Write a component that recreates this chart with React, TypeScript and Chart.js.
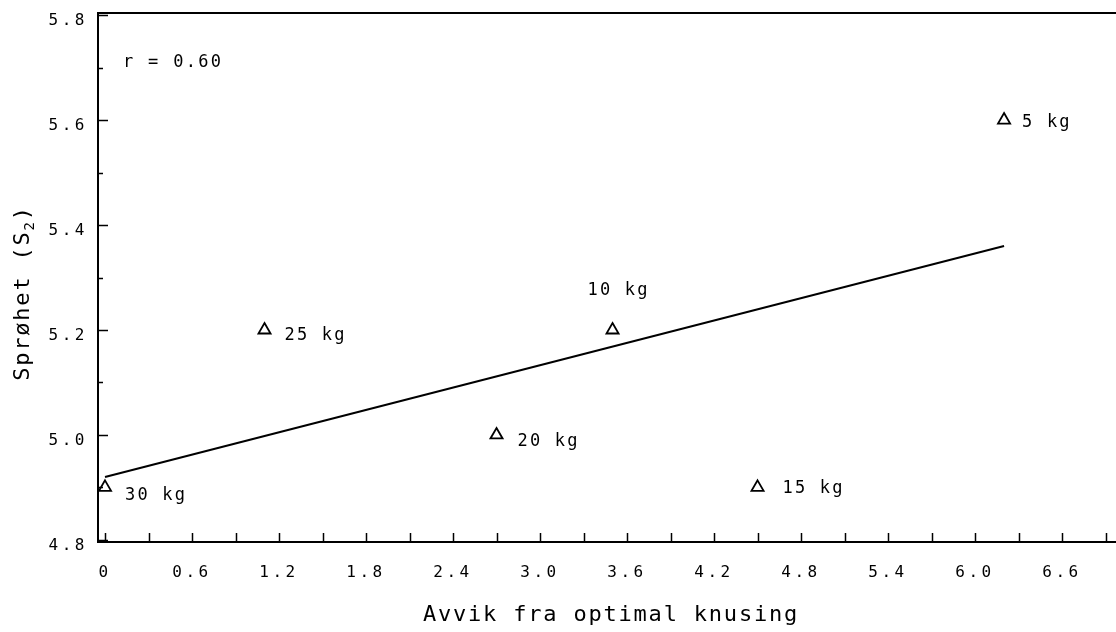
import { useEffect, useRef } from 'react';
import { Chart, registerables } from 'chart.js';

Chart.register(...registerables);

// Measured samples: deviation from optimal crushing vs. brittleness (S2)
const weightLabels = ['30 kg', '25 kg', '20 kg', '10 kg', '15 kg', '5 kg'];
const deviation = [0, 1.1, 2.7, 3.5, 4.5, 6.2];
const brittleness = [4.9, 5.2, 5.0, 5.2, 4.9, 5.6];

// Least-squares fit line end points
const fitDeviation = [0, 6.2];
const fitBrittleness = [4.92, 5.36];
const correlationText = 'r = 0.60';

// Axis ticks
const xTickValues = [0, 0.6, 1.2, 1.8, 2.4, 3.0, 3.6, 4.2, 4.8, 5.4, 6.0, 6.6];
const xTickLabels = ['0', '0.6', '1.2', '1.8', '2.4', '3.0', '3.6', '4.2', '4.8', '5.4', '6.0', '6.6'];
const xMinorTicks = [0.3, 0.9, 1.5, 2.1, 2.7, 3.3, 3.9, 4.5, 5.1, 5.7, 6.3, 6.9];
const yTickValues = [4.8, 5.0, 5.2, 5.4, 5.6, 5.8];
const yTickLabels = ['4.8', '5.0', '5.2', '5.4', '5.6', '5.8'];
const yMinorTicks = [4.9, 5.1, 5.3, 5.5, 5.7];

const xTitle = 'Avvik fra optimal knusing';
const yTitleParts = ['Sprøhet (S', '2', ')'];

const FONT = '"DejaVu Sans Mono", "Liberation Mono", monospace';

// Where each weight label sits relative to its marker (dx, baseline dy)
const labelOffsets: Record<string, [number, number]> = {
  '30 kg': [20, 13],
  '25 kg': [20, 10],
  '20 kg': [21, 11],
  '10 kg': [-25, -35],
  '15 kg': [25, 6],
  '5 kg': [18, 7],
};

const decorPlugin = {
  id: 'decor',
  beforeDraw(chart: any) {
    chart.ctx.letterSpacing = '3.5px';
  },
  afterDraw(chart: any) {
    const { ctx, chartArea: a } = chart;
    const x = chart.scales.x;
    const y = chart.scales.y;
    ctx.save();
    ctx.letterSpacing = '0px';
    ctx.strokeStyle = '#000';
    ctx.fillStyle = '#000';

    // top frame line
    ctx.lineWidth = 2;
    ctx.beginPath();
    ctx.moveTo(a.left - 1, a.top);
    ctx.lineTo(a.right, a.top);
    ctx.stroke();

    // inward tick marks
    ctx.lineWidth = 1.5;
    ctx.beginPath();
    [...xTickValues, ...xMinorTicks].forEach((v) => {
      const px = Math.round(x.getPixelForValue(v)) + 0.5;
      ctx.moveTo(px, a.bottom);
      ctx.lineTo(px, a.bottom - 9);
    });
    yTickValues.forEach((v) => {
      const py = Math.round(y.getPixelForValue(v)) + 0.5;
      ctx.moveTo(a.left, py);
      ctx.lineTo(a.left + 10, py);
    });
    yMinorTicks.forEach((v) => {
      const py = Math.round(y.getPixelForValue(v)) + 0.5;
      ctx.moveTo(a.left, py);
      ctx.lineTo(a.left + 5, py);
    });
    ctx.stroke();

    // weight labels beside markers
    ctx.font = `17px ${FONT}`;
    ctx.letterSpacing = '2.2px';
    ctx.textAlign = 'left';
    ctx.textBaseline = 'alphabetic';
    weightLabels.forEach((label, i) => {
      const [dx, dy] = labelOffsets[label] || [20, 8];
      ctx.fillText(label, x.getPixelForValue(deviation[i]) + dx, y.getPixelForValue(brittleness[i]) + dy);
    });

    // correlation coefficient
    ctx.letterSpacing = '2.3px';
    ctx.fillText(correlationText, a.left + 25, 67);

    // x axis title
    ctx.font = `22px ${FONT}`;
    ctx.letterSpacing = '1.8px';
    ctx.textAlign = 'center';
    ctx.fillText(xTitle, 611, 621);

    // y axis title with subscript
    ctx.save();
    ctx.translate(29, 293);
    ctx.rotate(-Math.PI / 2);
    ctx.textAlign = 'left';
    ctx.font = `22px ${FONT}`;
    const w0 = ctx.measureText(yTitleParts[0]).width;
    const w2 = ctx.measureText(yTitleParts[2]).width;
    ctx.font = `14px ${FONT}`;
    const w1 = ctx.measureText(yTitleParts[1]).width;
    let start = -(w0 + w1 + w2) / 2;
    ctx.font = `22px ${FONT}`;
    ctx.fillText(yTitleParts[0], start, 0);
    start += w0;
    ctx.font = `14px ${FONT}`;
    ctx.fillText(yTitleParts[1], start, 5);
    start += w1;
    ctx.font = `22px ${FONT}`;
    ctx.fillText(yTitleParts[2], start, 0);
    ctx.restore();

    ctx.restore();
  },
};

export default function App() {
  const canvasRef = useRef<HTMLCanvasElement | null>(null);

  useEffect(() => {
    if (!canvasRef.current) return;
    const chart = new Chart(canvasRef.current, {
      type: 'scatter',
      data: {
        datasets: [
          {
            type: 'scatter',
            data: deviation.map((v, i) => ({ x: v, y: brittleness[i] })),
            pointStyle: 'triangle',
            pointRadius: 7,
            pointBorderWidth: 1.8,
            pointBorderColor: '#000',
            pointBackgroundColor: 'rgba(0,0,0,0)',
            clip: false,
          },
          {
            type: 'line',
            data: fitDeviation.map((v, i) => ({ x: v, y: fitBrittleness[i] })),
            borderColor: '#000',
            borderWidth: 2,
            pointRadius: 0,
            fill: false,
          },
        ],
      } as any,
      options: {
        animation: false,
        responsive: true,
        maintainAspectRatio: false,
        layout: { autoPadding: false, padding: { top: 13, left: 0, right: 0, bottom: 0 } },
        plugins: {
          legend: { display: false },
          tooltip: { enabled: false },
        },
        scales: {
          x: {
            type: 'linear',
            min: -0.0483,
            max: 6.972,
            afterBuildTicks: (scale: any) => {
              scale.ticks = xTickValues.map((v) => ({ value: v }));
            },
            afterFit: (scale: any) => {
              scale.height = 90;
              scale.paddingLeft = 0;
              scale.paddingRight = 0;
            },
            ticks: {
              autoSkip: false,
              maxRotation: 0,
              padding: 21,
              color: '#000',
              font: { family: FONT, size: 16 },
              callback: (_v: any, i: number) => xTickLabels[i],
            },
            grid: { display: false, drawTicks: false },
            border: { display: true, color: '#000', width: 2 },
          },
          y: {
            type: 'linear',
            min: 4.796,
            max: 5.804,
            afterBuildTicks: (scale: any) => {
              scale.ticks = yTickValues.map((v) => ({ value: v }));
            },
            afterFit: (scale: any) => {
              scale.width = 98;
              scale.paddingTop = 0;
              scale.paddingBottom = 0;
            },
            ticks: {
              autoSkip: false,
              padding: 10,
              labelOffset: 6,
              color: '#000',
              font: { family: FONT, size: 16 },
              callback: (_v: any, i: number) => yTickLabels[i],
            },
            grid: { display: false, drawTicks: false },
            border: { display: true, color: '#000', width: 2 },
          },
        },
      } as any,
      plugins: [decorPlugin],
    });
    return () => chart.destroy();
  }, []);

  return (
    <div style={{ position: 'fixed', left: 0, top: 0, width: 1116, height: 632, background: '#fff' }}>
      <canvas ref={canvasRef} />
    </div>
  );
}
